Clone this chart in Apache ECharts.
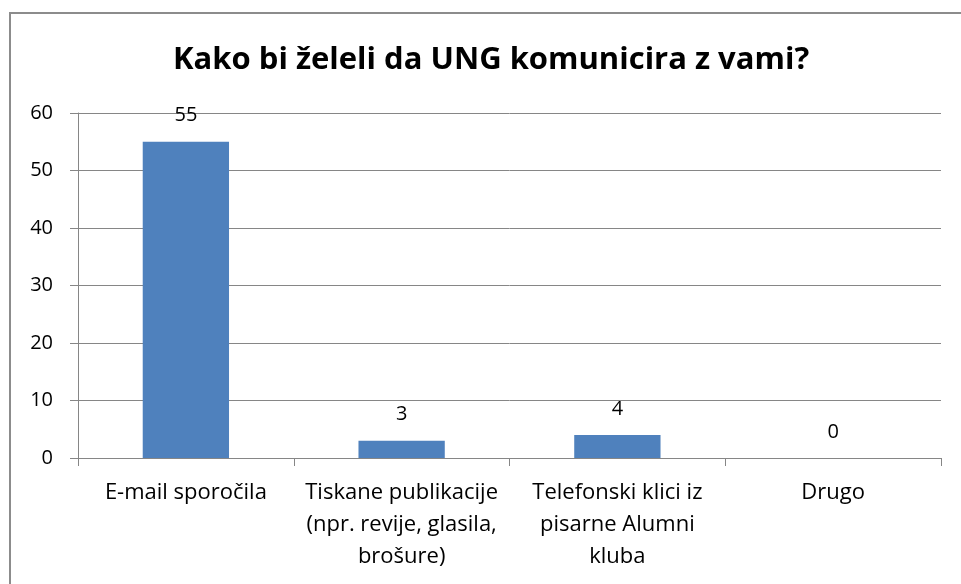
<!DOCTYPE html>
<html>
<head>
<meta charset="utf-8">
<script src="https://cdn.jsdelivr.net/npm/echarts@6/dist/echarts.min.js"></script>
<style>
	html, body { margin: 0; padding: 0; background: #fff; overflow: hidden; }
	#frame {
		position: absolute; left: 9px; top: 12px; width: 1000px; height: 700px;
		border-top: 2px solid #8c8c8c; border-left: 2px solid #8c8c8c;
	}
	#chart { position: absolute; left: 0; top: 0; width: 961px; height: 584px; }
</style>
</head>
<body>
<div id="frame"></div>
<div id="chart"></div>
<script>
// podatki ankete
const categories = [
	'E-mail sporočila',
	'Tiskane publikacije\n(npr. revije, glasila,\nbrošure)',
	'Telefonski klici iz\npisarne Alumni\nkluba',
	'Drugo',
];
const values = [55, 3, 4, 0];
const yTicks = { min: 0, max: 60, interval: 10 };

const font = '"Open Sans", sans-serif';
const chart = echarts.init(document.getElementById('chart'));
chart.setOption({
	animation: false,
	title: {
		text: 'Kako bi želeli da UNG komunicira z vami?',
		left: 168,
		top: 40,
		textStyle: { fontFamily: font, fontSize: 31, fontWeight: 'bold', color: '#000' },
	},
	grid: { left: 78, right: 20, top: 113, bottom: 126 },
	xAxis: {
		type: 'category',
		data: categories,
		axisLine: { lineStyle: { color: '#868686', width: 1 } },
		axisTick: { show: true, length: 8, alignWithLabel: false, lineStyle: { color: '#868686' } },
		axisLabel: {
			interval: 0,
			margin: 19,
			fontFamily: font,
			fontSize: 22,
			lineHeight: 32,
			color: '#000',
		},
	},
	yAxis: {
		type: 'value',
		min: yTicks.min,
		max: yTicks.max,
		interval: yTicks.interval,
		axisLine: { show: true, lineStyle: { color: '#868686' } },
		axisTick: { show: true, length: 8, lineStyle: { color: '#868686' } },
		splitLine: { lineStyle: { color: '#868686' } },
		axisLabel: { margin: 25, fontFamily: font, fontSize: 20, color: '#000' },
	},
	series: [
		{
			type: 'bar',
			data: values,
			barWidth: '40%',
			itemStyle: { color: '#4f81bd' },
			label: {
				show: true,
				position: 'top',
				distance: 16,
				fontFamily: font,
				fontSize: 20,
				color: '#000',
			},
		},
	],
});
</script>
</body>
</html>
